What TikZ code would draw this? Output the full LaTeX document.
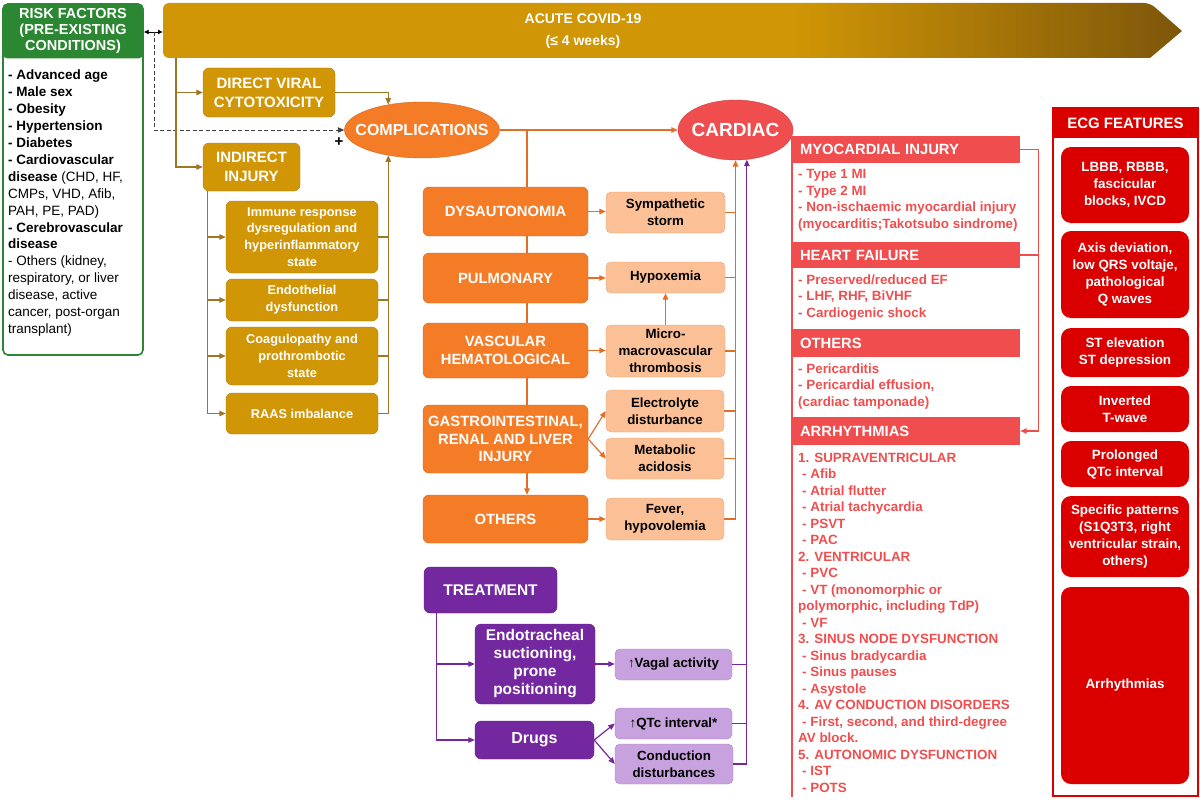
\documentclass[tikz,border=0pt]{standalone}
\usepackage{fontspec}
\setmainfont{Liberation Sans}
\usetikzlibrary{arrows.meta, shapes.geometric}

\definecolor{RiskGreen}{RGB}{44,135,50}
\definecolor{CovidGold}{RGB}{208,150,6}
\definecolor{CovidBrown}{RGB}{125,86,10}
\definecolor{GoldEdge}{RGB}{176,126,14}
\definecolor{GoldLine}{RGB}{160,118,36}
\definecolor{CompOrange}{RGB}{245,124,38}
\definecolor{OrangeEdge}{RGB}{214,100,30}
\definecolor{OrangeLine}{RGB}{228,110,40}
\definecolor{LightOrange}{RGB}{251,192,150}
\definecolor{PeachEdge}{RGB}{240,160,110}
\definecolor{CardiacRed}{RGB}{240,78,78}
\definecolor{EcgRed}{RGB}{218,0,0}
\definecolor{TreatPurple}{RGB}{116,40,160}
\definecolor{LightPurple}{RGB}{200,162,222}
\definecolor{LilacEdge}{RGB}{170,130,200}

\pgfdeclarehorizontalshading{bannershade}{100bp}{color(0bp)=(CovidGold); color(25bp)=(CovidGold); color(56bp)=(CovidGold); color(75bp)=(CovidBrown); color(100bp)=(CovidBrown)}

\newcommand{\fsz}[2]{\fontsize{#1}{#2}\selectfont}

\tikzset{
    boxsize/.style 2 args={minimum width=#1pt, minimum height=#2pt},
    box/.style={rectangle, rounded corners=6pt, inner sep=0pt, align=center},
    goldbox/.style={box, fill=CovidGold, draw=GoldEdge, text=white, font=\bfseries\fsz{15}{19}},
    goldsub/.style={goldbox, font=\bfseries\fsz{12.8}{16.7}},
    orangebox/.style={box, fill=CompOrange, draw=OrangeEdge, text=white, font=\bfseries\fsz{14.8}{17.5}},
    peachbox/.style={box, rounded corners=5pt, fill=LightOrange, draw=PeachEdge, text=black, font=\bfseries\fsz{13.3}{17}},
    purplebox/.style={box, fill=TreatPurple, draw=TreatPurple!85!black, text=white, font=\bfseries\fsz{15.5}{18}},
    lilacbox/.style={box, rounded corners=5pt, fill=LightPurple, draw=LilacEdge, text=black, font=\bfseries\fsz{13.3}{17}},
    blob/.style={ellipse, inner sep=0pt, text=white},
    redhead/.style={rectangle, fill=CardiacRed, text=white, inner sep=0pt, inner xsep=8pt,
        text width=212pt, minimum height=27pt, align=left, font=\bfseries\fsz{14.8}{16}},
    redlist/.style={anchor=north west, inner sep=0pt, align=left, text=CardiacRed, font=\bfseries\fsz{13.4}{16.5}},
    ecgbox/.style={box, rounded corners=10pt, fill=EcgRed, text=white, minimum width=128pt, font=\bfseries\fsz{13.4}{17}},
    goldline/.style={draw=GoldLine, line width=1.2pt},
    orangeline/.style={draw=OrangeLine, line width=1.2pt},
    purpleline/.style={draw=TreatPurple, line width=1.2pt},
    redline/.style={draw=CardiacRed, line width=1.2pt}
}

\begin{document}
\begin{tikzpicture}[x=1pt, y=-1pt, >={Triangle[length=6.5pt, width=5.5pt]}]

    \useasboundingbox (0,0) rectangle (1200,800);

    % acute phase banner
    \shade[shading=bannershade] (163,31) [rounded corners=6pt] |- (1150,3) [sharp corners]
        -- (1182,31) -- (1150,58) [rounded corners=6pt] -| (163,31) -- cycle;
    \node[text=white, align=center, font=\bfseries\fsz{14}{22}] (acute) at (583,31) {ACUTE COVID-19\\(≤ 4 weeks)};
    \coordinate (bannerwest) at (163,32);
    \coordinate (bannerfoot) at (176,58);

    % risk factors
    \node[box, rounded corners=5pt, draw=RiskGreen, line width=1.6pt, fill=white, boxsize={140}{351}] (riskframe) at (73,179.5) {};
    \node[box, rounded corners=5pt, fill=RiskGreen, text=white, boxsize={141}{55}, font=\bfseries\fsz{14.5}{16.2}] (riskhead) at (73,31) {RISK FACTORS\\(PRE-EXISTING\\CONDITIONS)};
    \node[anchor=north west, inner sep=0pt, align=left, font=\fsz{13.5}{16.9}] (risklist) at (8,70) {%
        \textbf{- Advanced age}\\
        \textbf{- Male sex}\\
        \textbf{- Obesity}\\
        \textbf{- Hypertension}\\
        \textbf{- Diabetes}\\
        \textbf{- Cardiovascular}\\
        \textbf{disease} (CHD, HF,\\
        CMPs, VHD, Afib,\\
        PAH, PE, PAD)\\
        \textbf{- Cerebrovascular}\\
        \textbf{disease}\\
        - Others (kidney,\\
        respiratory, or liver\\
        disease, active\\
        cancer, post-organ\\
        transplant)};

    % mechanisms
    \node[goldbox, boxsize={132}{49}] (direct) at (269,92.5) {DIRECT VIRAL\\CYTOTOXICITY};
    \node[goldbox, boxsize={97}{48}] (indirect) at (251.5,167) {INDIRECT\\INJURY};
    \node[goldsub, boxsize={152}{72}] (immune) at (302,237) {Immune response\\dysregulation and\\hyperinflammatory\\state};
    \node[goldsub, boxsize={152}{42}] (endoth) at (302,300) {Endothelial\\dysfunction};
    \node[goldsub, boxsize={152}{58}] (coag) at (302,356) {Coagulopathy and\\prothrombotic\\state};
    \node[goldsub, boxsize={152}{41}] (raas) at (302,413.5) {RAAS imbalance};

    \node[blob, fill=CompOrange, draw=OrangeEdge, boxsize={155}{56}, font=\bfseries\fsz{16}{18}] (comp) at (422,130) {\makebox[0pt]{COMPLICATIONS}};
    \node[blob, fill=CardiacRed, draw=CardiacRed!85!black, boxsize={115}{60}, font=\bfseries\fsz{19}{21}] (cardiac) at (735.5,130) {\makebox[0pt]{CARDIAC}};
    \node[font=\bfseries\fsz{15}{15}] (plus) at (339,142) {+};

    % complications
    \node[orangebox, boxsize={165}{49}] (dys) at (505.5,211.5) {DYSAUTONOMIA};
    \node[orangebox, boxsize={165}{50}] (pulm) at (505.5,278) {PULMONARY};
    \node[orangebox, boxsize={165}{55}] (vasc) at (505.5,350.5) {VASCULAR\\HEMATOLOGICAL};
    \node[orangebox, boxsize={165}{68}] (gi) at (505.5,439) {GASTROINTESTINAL,\\RENAL AND LIVER\\INJURY};
    \node[orangebox, boxsize={165}{48}] (othr) at (505.5,519) {OTHERS};

    \node[peachbox, boxsize={119}{41}] (symp) at (665.5,212.5) {Sympathetic\\storm};
    \node[peachbox, boxsize={119}{31}] (hypox) at (665.5,277.5) {Hypoxemia};
    \node[peachbox, boxsize={119}{52}] (micro) at (665.5,351) {Micro-\\macrovascular\\thrombosis};
    \node[peachbox, boxsize={118}{42}] (elec) at (665,411) {Electrolyte\\disturbance};
    \node[peachbox, boxsize={118}{41}] (metab) at (665,458.5) {Metabolic\\acidosis};
    \node[peachbox, boxsize={118}{42}] (fever) at (665,519) {Fever,\\hypovolemia};

    % treatment
    \node[purplebox, boxsize={133}{46}, font=\bfseries\fsz{15.5}{17}] (treat) at (490.5,590) {TREATMENT};
    \node[purplebox, boxsize={120}{80}] (endotr) at (535,664) {Endotracheal\\suctioning,\\prone\\positioning};
    \node[purplebox, boxsize={119}{38}, font=\bfseries\fsz{16}{18}] (drugs) at (534.5,740) {Drugs};
    \node[lilacbox, boxsize={117}{31}] (vagal) at (673.5,664.5) {↑Vagal activity};
    \node[lilacbox, boxsize={117}{31}] (qtc) at (673.5,723.5) {↑QTc interval*};
    \node[lilacbox, boxsize={118}{40}] (cond) at (674,764) {Conduction\\disturbances};

    % cardiac findings
    \draw[CardiacRed, line width=1.6pt] (792,137) coordinate (redtop) -- (792,797) coordinate (redfoot);
    \node[redhead, boxsize={228}{27}] (myohead) at (906,149.5) {MYOCARDIAL INJURY};
    \node[redlist] (myolist) at (798,169.5) {- Type 1 MI\\- Type 2 MI\\- Non-ischaemic myocardial injury\\(myocarditis;Takotsubo sindrome)};
    \node[redhead, boxsize={228}{26}] (hfhead) at (906,255) {HEART FAILURE};
    \node[redlist] (hflist) at (798,274.5) {- Preserved/reduced EF\\- LHF, RHF, BiVHF\\- Cardiogenic shock};
    \node[redhead, boxsize={228}{28}] (othhead) at (906,343) {OTHERS};
    \node[redlist] (othlist) at (798,363.5) {- Pericarditis\\- Pericardial effusion,\\(cardiac tamponade)};
    \node[redhead, boxsize={228}{28}] (arrhead) at (906,431) {ARRHYTHMIAS};
    \node[redlist] (arrlist) at (798,452.5) {%
        1. SUPRAVENTRICULAR\\
        \hspace{4pt}- Afib\\
        \hspace{4pt}- Atrial flutter\\
        \hspace{4pt}- Atrial tachycardia\\
        \hspace{4pt}- PSVT\\
        \hspace{4pt}- PAC\\
        2. VENTRICULAR\\
        \hspace{4pt}- PVC\\
        \hspace{4pt}- VT (monomorphic or\\
        polymorphic, including TdP)\\
        \hspace{4pt}- VF\\
        3. SINUS NODE DYSFUNCTION\\
        \hspace{4pt}- Sinus bradycardia\\
        \hspace{4pt}- Sinus pauses\\
        \hspace{4pt}- Asystole\\
        4. AV CONDUCTION DISORDERS\\
        \hspace{4pt}- First, second, and third-degree\\
        AV block.\\
        5. AUTONOMIC DYSFUNCTION\\
        \hspace{4pt}- IST\\
        \hspace{4pt}- POTS};

    % ecg features
    \node[rectangle, draw=EcgRed, line width=1.6pt, boxsize={145}{688}] (ecgframe) at (1125.5,452) {};
    \node[rectangle, fill=EcgRed, text=white, boxsize={145}{30}, font=\bfseries\fsz{15}{16}] (ecghead) at (1125.5,123) {ECG FEATURES};
    \node[ecgbox, minimum height=76pt] (ecgone) at (1125,185) {LBBB, RBBB,\\fascicular\\blocks, IVCD};
    \node[ecgbox, minimum height=87pt] (ecgtwo) at (1125,274.5) {Axis deviation,\\low QRS voltaje,\\pathological\\Q waves};
    \node[ecgbox, minimum height=49pt] (ecgthree) at (1125,352.5) {ST elevation\\ST depression};
    \node[ecgbox, minimum height=46pt] (ecgfour) at (1125,409) {Inverted\\T-wave};
    \node[ecgbox, minimum height=46pt] (ecgfive) at (1125,464) {Prolonged\\QTc interval};
    \node[ecgbox, minimum height=81pt] (ecgsix) at (1125,536.5) {Specific patterns\\(S1Q3T3, right\\ventricular strain,\\others)};
    \node[ecgbox, minimum height=197pt] (ecgseven) at (1125,685.5) {Arrhythmias};

    % connectors
    \draw[black, line width=0.9pt, {Latex[length=5pt, width=5pt]}-{Latex[length=5pt, width=5pt]}] (riskhead.east |- bannerwest) -- (bannerwest);
    \draw[black!75, line width=1pt, dash pattern=on 4pt off 2.5pt, ->] (154,32) |- (comp.west);

    \draw[goldline, ->] (bannerfoot) |- (direct.west);
    \draw[goldline, ->] (bannerfoot) |- (indirect.west);
    \draw[goldline, ->] (direct.east) -| (comp.143);
    \coordinate (indfoot) at ([xshift=5pt]indirect.south west);
    \foreach \sub in {immune, endoth, coag, raas}
        \draw[goldline, ->] (indfoot) |- (\sub.west);
    \draw[goldline, ->] (raas.east) -| (comp.217);
    \foreach \sub in {immune, endoth, coag}
        \draw[goldline] (\sub.east) -- (\sub.east -| comp.217);

    \draw[orangeline, ->] (comp.east) -- (cardiac.west);
    \coordinate (trunk) at (527,130);
    \draw[orangeline] (trunk) -- (trunk |- dys.north);
    \draw[orangeline] (trunk |- dys.south) -- (trunk |- pulm.north);
    \draw[orangeline] (trunk |- pulm.south) -- (trunk |- vasc.north);
    \draw[orangeline] (trunk |- vasc.south) -- (trunk |- gi.north);
    \draw[orangeline, ->] (trunk |- gi.south) -- (trunk |- othr.north);

    \draw[orangeline, ->] (dys.east) -- (dys.east -| symp.west);
    \draw[orangeline, ->] (pulm.east) -- (pulm.east -| hypox.west);
    \draw[orangeline, ->] (vasc.east) -- (vasc.east -| micro.west);
    \draw[orangeline, ->] (gi.east) -- (elec.west);
    \draw[orangeline, ->] (gi.east) -- (metab.west);
    \draw[orangeline, ->] (othr.east) -- (othr.east -| fever.west);
    \draw[orangeline, ->] (micro.north) -- (hypox.south);

    \draw[orangeline, ->] (fever.east) -| (cardiac.south);
    \foreach \eff in {symp, hypox, micro, elec, metab}
        \draw[orangeline] (\eff.east) -- (\eff.east -| cardiac.south);

    \coordinate (treatfoot) at ([xshift=13pt]treat.south west);
    \draw[purpleline, ->] (treatfoot) |- (endotr.west);
    \draw[purpleline, ->] (treatfoot) |- (drugs.west);
    \draw[purpleline, ->] (endotr.east) -- (endotr.east -| vagal.west);
    \draw[purpleline, ->] (drugs.east) -- (qtc.west);
    \draw[purpleline, ->] (drugs.east) -- (cond.west);
    \draw[purpleline, ->] (cond.east) -| (cardiac.291);
    \foreach \eff in {vagal, qtc}
        \draw[purpleline] (\eff.east) -- (\eff.east -| cardiac.291);

    \draw[redline, ->] (myohead.east) -- ++(18,0) |- (arrhead.east);
    \draw[redline] (hfhead.east) -- ++(18,0);

\end{tikzpicture}
\end{document}
